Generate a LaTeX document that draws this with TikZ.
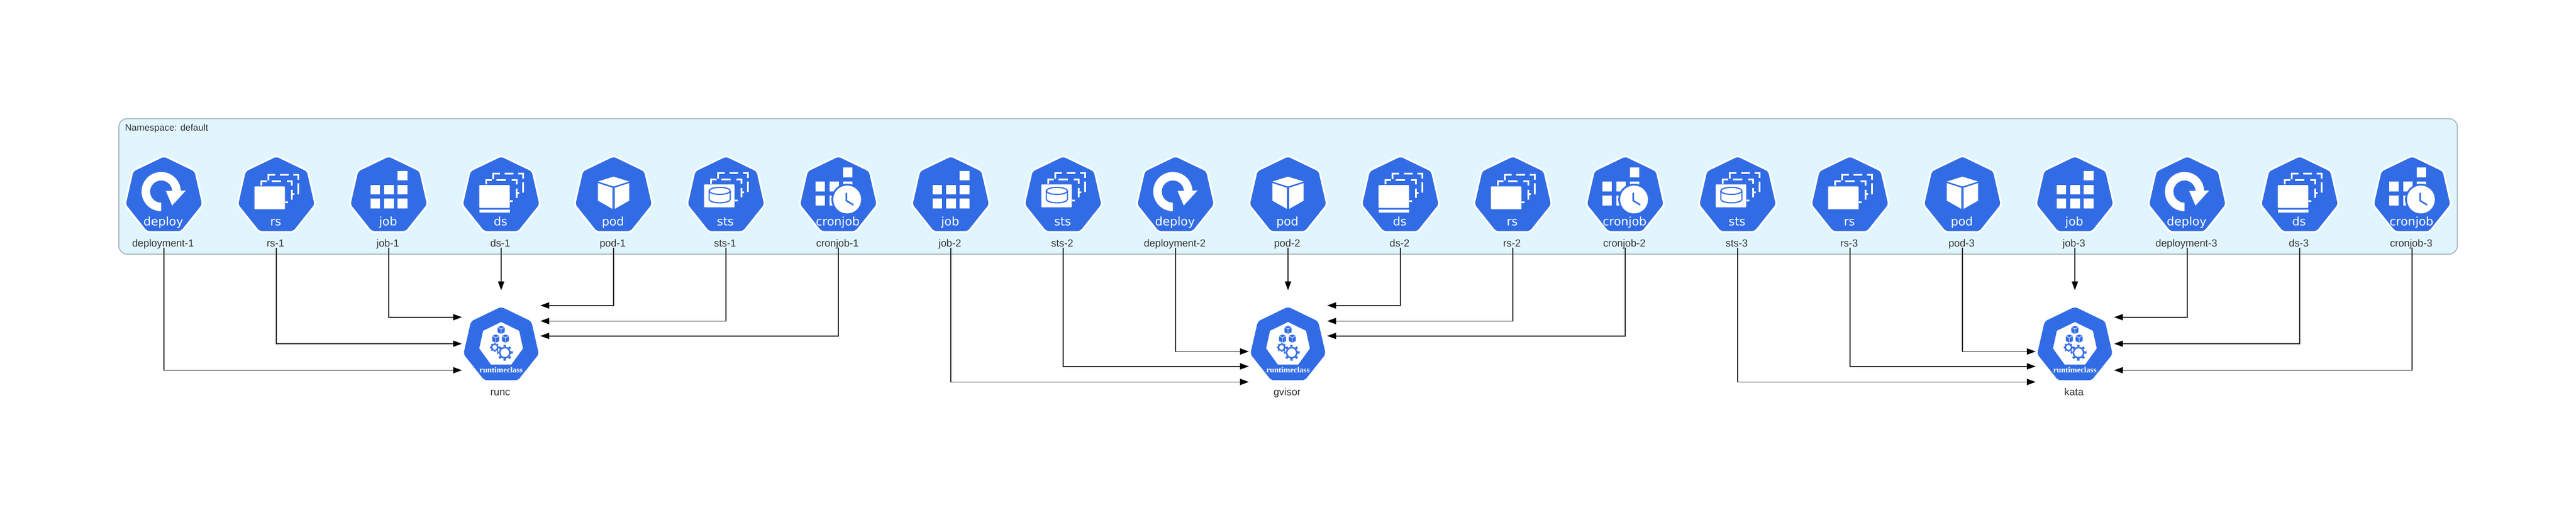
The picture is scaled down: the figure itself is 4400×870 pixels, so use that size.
\documentclass[tikz,border=0pt]{standalone}
\usepackage{fontspec}
\setmainfont{Liberation Sans}
\newfontfamily\iconfont{DejaVu Sans}
\newfontfamily\classfont{Liberation Serif}
\usetikzlibrary{shapes.geometric, arrows.meta, positioning}
\definecolor{kubeblue}{HTML}{326CE5}
\definecolor{panelfill}{HTML}{E1F5FE}
\definecolor{panelline}{HTML}{B0BEC5}
\definecolor{inktext}{HTML}{333333}

\tikzset{
  sheet/.style={white, line width=3pt},
  kindtext/.style={inner sep=0pt, anchor=base, xshift=-1pt, text=white, font=\iconfont\fontsize{20.2}{24}\selectfont},
  pics/stackicon/.style={code={
    \fill[white, rounded corners=1pt] (-37.5,0) rectangle (14.6,39);
    % middle sheet
    \draw[sheet] (-25.7,-1.5) -- (-25.7,-9) -- (-15.7,-9);
    \draw[sheet] (-7.9,-9) -- (8.2,-9);
    \draw[sheet] (17.9,-9) -- (26,-9) -- (26,-1.5);
    \draw[sheet] (26,5.7) -- (26,22.3);
    \draw[sheet] (14.6,27) -- (20,27);
    % back sheet
    \draw[sheet] (-13.9,-10.5) -- (-13.9,-20) -- (-2.5,-20);
    \draw[sheet] (5.7,-20) -- (20.7,-20);
    \draw[sheet] (29,-20) -- (37.3,-20) -- (37.3,-11);
    \draw[sheet] (37.3,-5) -- (37.3,13.3);
    \draw[sheet] (26,13.3) -- (31,13.3);
  }},
  pics/deployicon/.style={code={
    \fill[white] (-4.7,26.3) arc[start angle=270, end angle=0, radius=33.5pt] -- (14.3,-7.2) arc[start angle=0, end angle=270, radius=19pt] -- cycle;
    \fill[white] (3.3,-8.3) -- (37.3,-9) -- (14,16.7) -- cycle;
    \node[kindtext] (-kind) at (0,50.6) {deploy};
  }},
  pics/rsicon/.style={code={
    \pic at (0,-16) {stackicon};
    \node[kindtext] (-kind) at (0,50.6) {rs};
  }},
  pics/dsicon/.style={code={
    \pic at (0,-18.4) {stackicon};
    \fill[white] (-37.5,24) rectangle (14.6,28.3);
    \node[kindtext] (-kind) at (0,50.6) {ds};
  }},
  pics/stsicon/.style={code={
    \pic at (0,-19.4) {stackicon};
    \draw[kubeblue, line width=2pt] (-28.7,-8.4) -- (-28.7,6) arc[x radius=18pt, y radius=6pt, start angle=180, end angle=360] -- (7.3,-8.4);
    \draw[kubeblue, line width=2pt] (-10.7,-8.4) ellipse[x radius=18pt, y radius=6pt];
    \node[kindtext] (-kind) at (0,50.6) {sts};
  }},
  pics/jobicon/.style={code={
    \fill[white] (15,-42.7) rectangle (32,-26.7);
    \foreach \colx in {-31.5,-8.2,15} {
      \fill[white] (\colx,-18.4) rectangle ++(16.8,15.7);
      \fill[white] (\colx,4.9) rectangle ++(16.8,16.4);
    }
    \node[kindtext] (-kind) at (0,50.6) {job};
  }},
  pics/podicon/.style={code={
    \fill[white] (0,-32.7) -- (26.7,-24.4) -- (0,-16) -- (-26.7,-24.4) -- cycle;
    \fill[white] (-26.7,-21.7) -- (-2,-13.7) -- (-2,22.3) -- (-26.7,8.3) -- cycle;
    \fill[white] (26.7,-21.7) -- (2,-13.7) -- (2,22.3) -- (26.7,8.3) -- cycle;
    \node[kindtext] (-kind) at (0,50.6) {pod};
  }},
  pics/cronjobicon/.style={code={
    \fill[white] (8,-48.4) rectangle (24,-31.7);
    \foreach \colx in {-38.7,-15.3,8} {
      \fill[white] (\colx,-24.4) rectangle ++(16,16.7);
      \fill[white] (\colx,-0.1) rectangle ++(16,16.7);
    }
    \fill[kubeblue] (15,6.3) circle[radius=27pt];
    \fill[white] (15,6.3) circle[radius=23.8pt];
    \draw[kubeblue, line width=2.6pt] (13.7,-5) -- (13.7,8.3) -- (25.7,15.6);
    \node[kindtext] (-kind) at (0,50.6) {cronjob};
  }},
  pics/cubeicon/.style={code={
    \fill[kubeblue] (0,-7) -- (6,-4.4) -- (6,4) -- (0,7) -- (-6,4) -- (-6,-4.4) -- cycle;
    \draw[white, line width=0.8pt] (-6,-4.4) -- (0,-1.6) -- (6,-4.4) (0,-1.6) -- (0,7);
  }},
  pics/gearicon/.style n args={5}{code={
    \foreach \a in {0,#4,...,359} \draw[kubeblue, line width=#5pt] (\a:#1) -- (\a:#3);
    \fill[kubeblue] (0,0) circle[radius=#1pt];
    \fill[white] (0,0) circle[radius=#2pt];
  }},
  pics/runtimeicon/.style={code={
    \fill[white] (0,-40) -- (30.7,-25) -- (37.3,5) -- (17.3,32.7) -- (-17.3,32.7) -- (-37.3,5) -- (-30.7,-25) -- cycle;
    \pic at (0,-26.7) {cubeicon};
    \pic at (-9.3,-11.7) {cubeicon};
    \pic at (7.3,-11.7) {cubeicon};
    \pic at (-11,3.3) {gearicon={6.3}{4}{7.8}{45}{3}};
    \pic at (6.3,12.3) {gearicon={10}{7.3}{13.3}{45}{4}};
    \node[inner sep=0pt, anchor=base, text=white, font=\classfont\bfseries\fontsize{13.6}{16}\selectfont] (-kind) at (0,46) {runtimeclass};
  }}
}

\begin{document}
\begin{tikzpicture}[x=1pt, y=-1pt]
    \tikzstyle{workload} = [regular polygon, regular polygon sides=7, minimum size=137pt, inner sep=0pt, outer sep=0pt, rounded corners=5pt, fill=kubeblue, draw=white, line width=3pt]
    \tikzstyle{runtime} = [regular polygon, regular polygon sides=7, minimum size=132pt, inner sep=0pt, outer sep=0pt, rounded corners=5pt, fill=kubeblue]
    \tikzstyle{portbox} = [rectangle, minimum width=134pt, minimum height=194.3pt, inner sep=0pt, outer sep=0pt]
    \tikzstyle{caption} = [inner sep=0pt, outer sep=0pt, anchor=base, text depth=2.3pt, text=inktext, font=\fontsize{17.4}{20}\selectfont, execute at end node=\hspace{3pt}]
    \tikzstyle{arrow} = [draw=inktext, line width=1.6pt, -{Triangle[length=15pt, width=10.5pt, color=black]}]

    \useasboundingbox (0,0) rectangle (4400,870);

    \node[rectangle, rounded corners=14pt, draw=panelline, fill=panelfill, line width=2pt, minimum width=3994.3pt, minimum height=231.3pt, inner sep=0pt] (namespace) at (2200.15,318.35) {};
    \node[inner sep=0pt, anchor=base west, text=inktext, font=\fontsize{15.8}{18}\selectfont] (namespace-title) at (213.3,223.3) {Namespace: default};

    % workloads in the namespace
    \node[workload] (deployment-1) at (280,334.4) {};
    \pic (deployment-1-icon) at (deployment-1) {deployicon};
    \node[caption] (deployment-1-label) at (280,421) {deployment-1};
    \node[workload] (rs-1) at (472,334.4) {};
    \pic (rs-1-icon) at (rs-1) {rsicon};
    \node[caption] (rs-1-label) at (472,421) {rs-1};
    \node[workload] (job-1) at (664,334.4) {};
    \pic (job-1-icon) at (job-1) {jobicon};
    \node[caption] (job-1-label) at (664,421) {job-1};
    \node[workload] (ds-1) at (856,334.4) {};
    \pic (ds-1-icon) at (ds-1) {dsicon};
    \node[caption] (ds-1-label) at (856,421) {ds-1};
    \node[workload] (pod-1) at (1048,334.4) {};
    \pic (pod-1-icon) at (pod-1) {podicon};
    \node[caption] (pod-1-label) at (1048,421) {pod-1};
    \node[workload] (sts-1) at (1240,334.4) {};
    \pic (sts-1-icon) at (sts-1) {stsicon};
    \node[caption] (sts-1-label) at (1240,421) {sts-1};
    \node[workload] (cronjob-1) at (1432,334.4) {};
    \pic (cronjob-1-icon) at (cronjob-1) {cronjobicon};
    \node[caption] (cronjob-1-label) at (1432,421) {cronjob-1};

    \node[workload] (job-2) at (1624,334.4) {};
    \pic (job-2-icon) at (job-2) {jobicon};
    \node[caption] (job-2-label) at (1624,421) {job-2};
    \node[workload] (sts-2) at (1816,334.4) {};
    \pic (sts-2-icon) at (sts-2) {stsicon};
    \node[caption] (sts-2-label) at (1816,421) {sts-2};
    \node[workload] (deployment-2) at (2008,334.4) {};
    \pic (deployment-2-icon) at (deployment-2) {deployicon};
    \node[caption] (deployment-2-label) at (2008,421) {deployment-2};
    \node[workload] (pod-2) at (2200,334.4) {};
    \pic (pod-2-icon) at (pod-2) {podicon};
    \node[caption] (pod-2-label) at (2200,421) {pod-2};
    \node[workload] (ds-2) at (2392,334.4) {};
    \pic (ds-2-icon) at (ds-2) {dsicon};
    \node[caption] (ds-2-label) at (2392,421) {ds-2};
    \node[workload] (rs-2) at (2584,334.4) {};
    \pic (rs-2-icon) at (rs-2) {rsicon};
    \node[caption] (rs-2-label) at (2584,421) {rs-2};
    \node[workload] (cronjob-2) at (2776,334.4) {};
    \pic (cronjob-2-icon) at (cronjob-2) {cronjobicon};
    \node[caption] (cronjob-2-label) at (2776,421) {cronjob-2};

    \node[workload] (sts-3) at (2968,334.4) {};
    \pic (sts-3-icon) at (sts-3) {stsicon};
    \node[caption] (sts-3-label) at (2968,421) {sts-3};
    \node[workload] (rs-3) at (3160,334.4) {};
    \pic (rs-3-icon) at (rs-3) {rsicon};
    \node[caption] (rs-3-label) at (3160,421) {rs-3};
    \node[workload] (pod-3) at (3352,334.4) {};
    \pic (pod-3-icon) at (pod-3) {podicon};
    \node[caption] (pod-3-label) at (3352,421) {pod-3};
    \node[workload] (job-3) at (3544,334.4) {};
    \pic (job-3-icon) at (job-3) {jobicon};
    \node[caption] (job-3-label) at (3544,421) {job-3};
    \node[workload] (deployment-3) at (3736,334.4) {};
    \pic (deployment-3-icon) at (deployment-3) {deployicon};
    \node[caption] (deployment-3-label) at (3736,421) {deployment-3};
    \node[workload] (ds-3) at (3928,334.4) {};
    \pic (ds-3-icon) at (ds-3) {dsicon};
    \node[caption] (ds-3-label) at (3928,421) {ds-3};
    \node[workload] (cronjob-3) at (4120,334.4) {};
    \pic (cronjob-3-icon) at (cronjob-3) {cronjobicon};
    \node[caption] (cronjob-3-label) at (4120,421) {cronjob-3};

    % runtime classes
    \node[runtime] (runc) at (856,590) {};
    \pic (runc-icon) at (runc) {runtimeicon};
    \node[caption] (runc-label) at (856,675.7) {runc};
    \node[portbox] (runc-box) at (856,592.85) {};
    \node[runtime] (gvisor) at (2200,590) {};
    \pic (gvisor-icon) at (gvisor) {runtimeicon};
    \node[caption] (gvisor-label) at (2200,675.7) {gvisor};
    \node[portbox] (gvisor-box) at (2200,592.85) {};
    \node[runtime] (kata) at (3544,590) {};
    \pic (kata-icon) at (kata) {runtimeicon};
    \node[caption] (kata-label) at (3544,675.7) {kata};
    \node[portbox] (kata-box) at (3544,592.85) {};

    \draw[arrow] (ds-1-label.south) -- (runc-box.north);
    \draw[arrow] (job-1-label.south) |- ([yshift=51.15pt]runc-box.west);
    \draw[arrow] (rs-1-label.south) |- ([yshift=5.85pt]runc-box.west);
    \draw[arrow] (deployment-1-label.south) |- ([yshift=-39.45pt]runc-box.west);
    \draw[arrow] (pod-1-label.south) |- ([yshift=71.15pt]runc-box.east);
    \draw[arrow] (sts-1-label.south) |- ([yshift=44.55pt]runc-box.east);
    \draw[arrow] (cronjob-1-label.south) |- ([yshift=19.15pt]runc-box.east);

    \draw[arrow] (pod-2-label.south) -- (gvisor-box.north);
    \draw[arrow] (deployment-2-label.south) |- ([yshift=-7.45pt]gvisor-box.west);
    \draw[arrow] (sts-2-label.south) |- ([yshift=-32.85pt]gvisor-box.west);
    \draw[arrow] (job-2-label.south) |- ([yshift=-59.45pt]gvisor-box.west);
    \draw[arrow] (ds-2-label.south) |- ([yshift=71.15pt]gvisor-box.east);
    \draw[arrow] (rs-2-label.south) |- ([yshift=44.55pt]gvisor-box.east);
    \draw[arrow] (cronjob-2-label.south) |- ([yshift=19.15pt]gvisor-box.east);

    \draw[arrow] (job-3-label.south) -- (kata-box.north);
    \draw[arrow] (pod-3-label.south) |- ([yshift=-7.45pt]kata-box.west);
    \draw[arrow] (rs-3-label.south) |- ([yshift=-32.85pt]kata-box.west);
    \draw[arrow] (sts-3-label.south) |- ([yshift=-59.45pt]kata-box.west);
    \draw[arrow] (deployment-3-label.south) |- ([yshift=51.15pt]kata-box.east);
    \draw[arrow] (ds-3-label.south) |- ([yshift=5.85pt]kata-box.east);
    \draw[arrow] (cronjob-3-label.south) |- ([yshift=-39.45pt]kata-box.east);
\end{tikzpicture}
\end{document}
